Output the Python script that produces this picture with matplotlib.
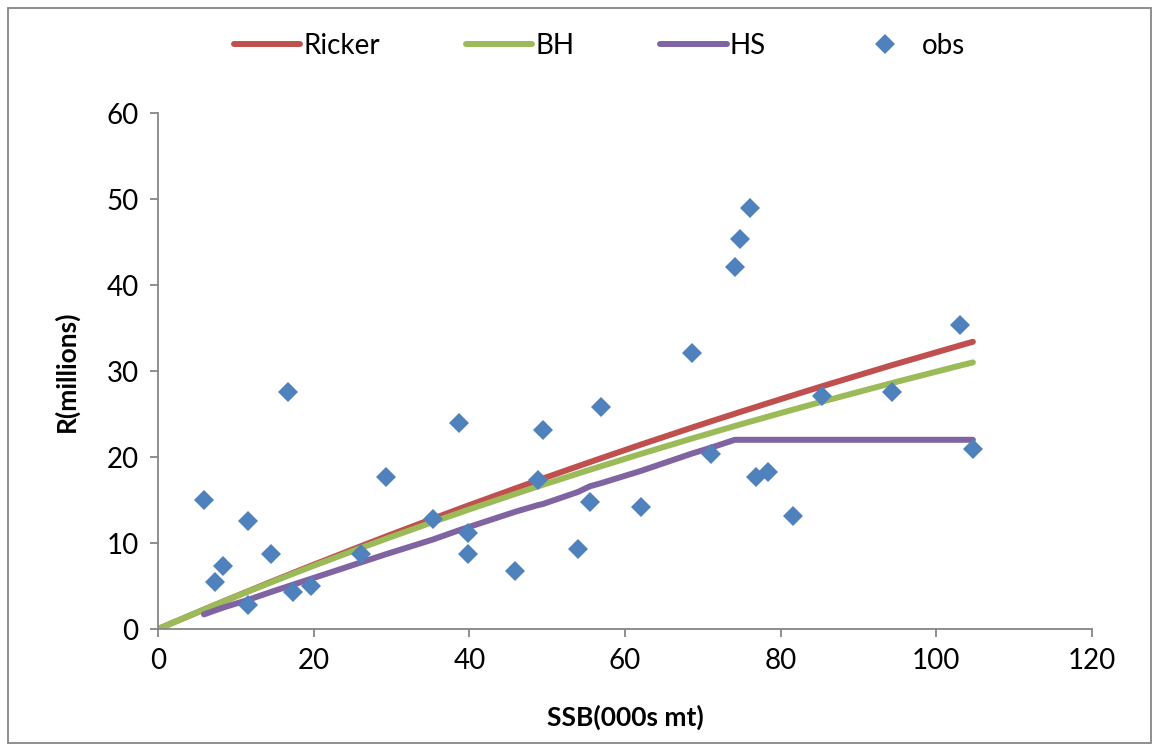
import matplotlib
matplotlib.use("Agg")
import matplotlib.pyplot as plt
from matplotlib.patches import Rectangle

plt.rcParams['font.family'] = ['Lato', 'DejaVu Sans']

# observed spawning stock (000s mt) and recruits (millions)
obs_ssb = [5.9, 7.3, 8.4, 11.6, 11.6, 14.5, 16.7, 17.3, 19.7, 26.1, 29.3, 35.3,
           38.7, 39.8, 39.8, 45.9, 48.8, 49.5, 54.0, 55.5, 56.9, 62.1, 68.6, 71.1,
           74.1, 74.8, 76.0, 76.8, 78.4, 81.6, 85.3, 94.3, 103.0, 104.7]
obs_rec = [15.0, 5.5, 7.3, 2.8, 12.6, 8.7, 27.6, 4.3, 5.0, 8.7, 17.7, 12.8,
           24.0, 11.2, 8.7, 6.7, 17.3, 23.1, 9.3, 14.8, 25.8, 14.2, 32.1, 20.3,
           42.1, 45.3, 49.0, 17.7, 18.3, 13.1, 27.1, 27.6, 35.3, 20.9]

# fitted curves
fit_ssb = [0.0, 5.9, 7.3, 8.4, 11.6, 14.5, 16.7, 17.3, 19.7, 26.1, 29.3, 35.3,
           38.7, 39.8, 45.9, 48.8, 49.5, 54.0, 55.5, 56.9, 62.1, 68.6, 71.1,
           74.1, 74.8, 76.0, 76.8, 78.4, 81.6, 85.3, 94.3, 103.0, 104.7]
ricker = [0.0, 2.26, 2.79, 3.21, 4.40, 5.48, 6.28, 6.50, 7.37, 9.64, 10.76, 12.82,
          13.97, 14.34, 16.34, 17.28, 17.51, 18.94, 19.41, 19.85, 21.46, 23.42, 24.16,
          25.03, 25.24, 25.58, 25.81, 26.27, 27.18, 28.22, 30.68, 32.96, 33.40]
bh = [0.0, 2.26, 2.78, 3.19, 4.37, 5.41, 6.20, 6.41, 7.25, 9.43, 10.49, 12.43,
      13.50, 13.85, 15.71, 16.58, 16.78, 18.09, 18.52, 18.92, 20.38, 22.15, 22.81,
      23.60, 23.78, 24.09, 24.29, 24.70, 25.51, 26.43, 28.60, 30.62, 31.00]

hs_ssb = fit_ssb[1:]
hs = [1.70, 2.15, 2.50, 3.40, 4.30, 4.96, 5.14, 5.85, 7.75, 8.70, 10.40,
      11.49, 11.82, 13.63, 14.40, 14.55, 15.95, 16.60, 16.95, 18.40, 20.40, 21.10,
      22.0, 22.0, 22.0, 22.0, 22.0, 22.0, 22.0, 22.0, 22.0, 22.0]

W, H = 1159, 751
fig = plt.figure(figsize=(W / 100, H / 100), dpi=100)
ax = fig.add_axes([158 / W, 1 - 629 / H, (1092 - 158) / W, (629 - 113) / H])

ax.plot(fit_ssb, ricker, color='#C0504D', lw=4.3, solid_capstyle='round', label='Ricker')
ax.plot(fit_ssb, bh, color='#9BBB59', lw=4.3, solid_capstyle='round', label='BH')
ax.plot(hs_ssb, hs, color='#8064A2', lw=4.3, solid_capstyle='round', label='HS')
ax.plot(obs_ssb, obs_rec, 'D', color='#4F81BD', ms=10.5, mew=0, label='obs')

ax.set_xlim(0, 120)
ax.set_ylim(0, 60)
ax.set_xticks(range(0, 121, 20))
ax.set_yticks(range(0, 61, 10))
for s in ['top', 'right']:
    ax.spines[s].set_visible(False)
for s in ['left', 'bottom']:
    ax.spines[s].set_color('#868686')
    ax.spines[s].set_linewidth(1.3)
ax.tick_params(direction='out', length=6, width=1.3, color='#868686',
               labelsize=20, pad=8)

ax.set_xlabel('SSB(000s mt)', fontsize=19, fontweight='bold', labelpad=22)
ax.set_ylabel('R(millions)', fontsize=19, fontweight='bold', labelpad=20)

fig.legend(loc='center', bbox_to_anchor=(0.517, 1 - 46 / H), ncol=4, frameon=False,
           fontsize=20, handlelength=2.4, handletextpad=0.1, columnspacing=3.1)

fig.patches.append(Rectangle((8 / W, 8 / H), 1 - 16 / W, 1 - 16 / H,
                             transform=fig.transFigure, fill=False,
                             edgecolor='#868686', lw=1.3))

fig.savefig('out.png', dpi=100)
